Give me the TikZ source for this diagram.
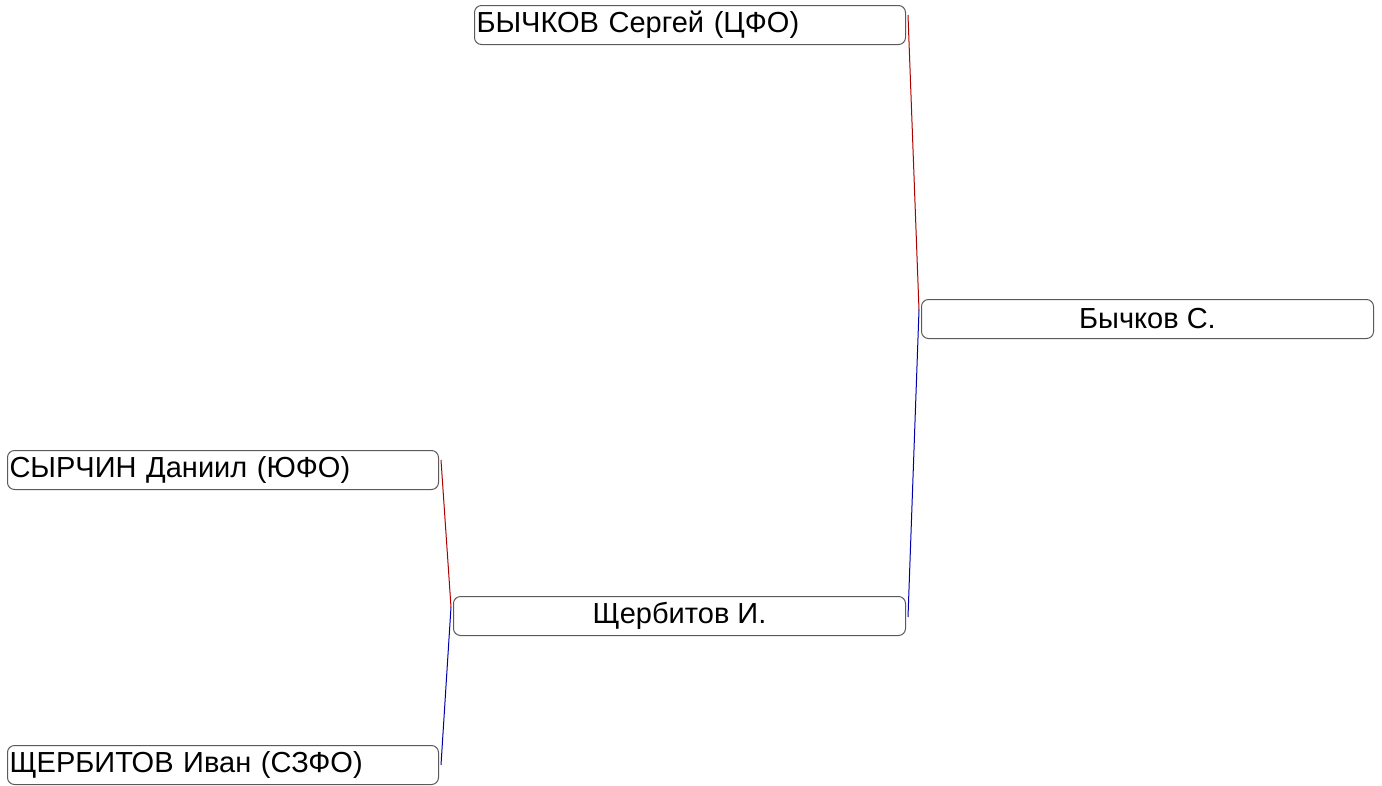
\documentclass[tikz,border=0pt]{standalone}
\usepackage{fontspec}
\setmainfont{Liberation Sans}
\definecolor{lred}{RGB}{170,0,0}
\definecolor{lblue}{RGB}{0,0,170}
\definecolor{bord}{RGB}{90,90,90}
\begin{document}
\begin{tikzpicture}[x=1pt,y=-1pt,
  player/.style={draw=bord,line width=1pt,rounded corners=7pt,minimum height=39pt,inner sep=0pt,anchor=north west,font=\fontsize{29}{29}\selectfont},
  leaf/.style={player,minimum width=431pt,text width=427pt,align=left},
  win/.style={player,minimum width=452pt,align=center},
  redl/.style={draw=lred,line width=1pt},
  bluel/.style={draw=lblue,line width=1pt}]
\useasboundingbox (0,0) rectangle (1382,785);
\node[leaf] (a) at (474,5) {БЫЧКОВ Сергей (ЦФО)};
\node[win] (f) at (921,299) {Бычков С.};
\node[leaf] (b) at (7,450) {СЫРЧИН Даниил (ЮФО)};
\node[win] (s) at (453,596) {Щербитов И.};
\node[leaf] (c) at (7,745) {ЩЕРБИТОВ Иван (СЗФО)};
\coordinate (a1) at ([xshift=2pt,yshift=-10pt]a.north east);
\coordinate (j1) at ([xshift=-2pt,yshift=-11pt]f.north west);
\coordinate (s1) at ([xshift=2pt,yshift=-21pt]s.north east);
\coordinate (b1) at ([xshift=2pt,yshift=-10pt]b.north east);
\coordinate (j2) at ([xshift=-2pt,yshift=-11pt]s.north west);
\coordinate (c1) at ([xshift=2pt,yshift=-20pt]c.north east);
\draw[redl] (a1) -- (j1);
\draw[bluel] (j1) -- (s1);
\draw[redl] (b1) -- (j2);
\draw[bluel] (j2) -- (c1);
\end{tikzpicture}
\end{document}
